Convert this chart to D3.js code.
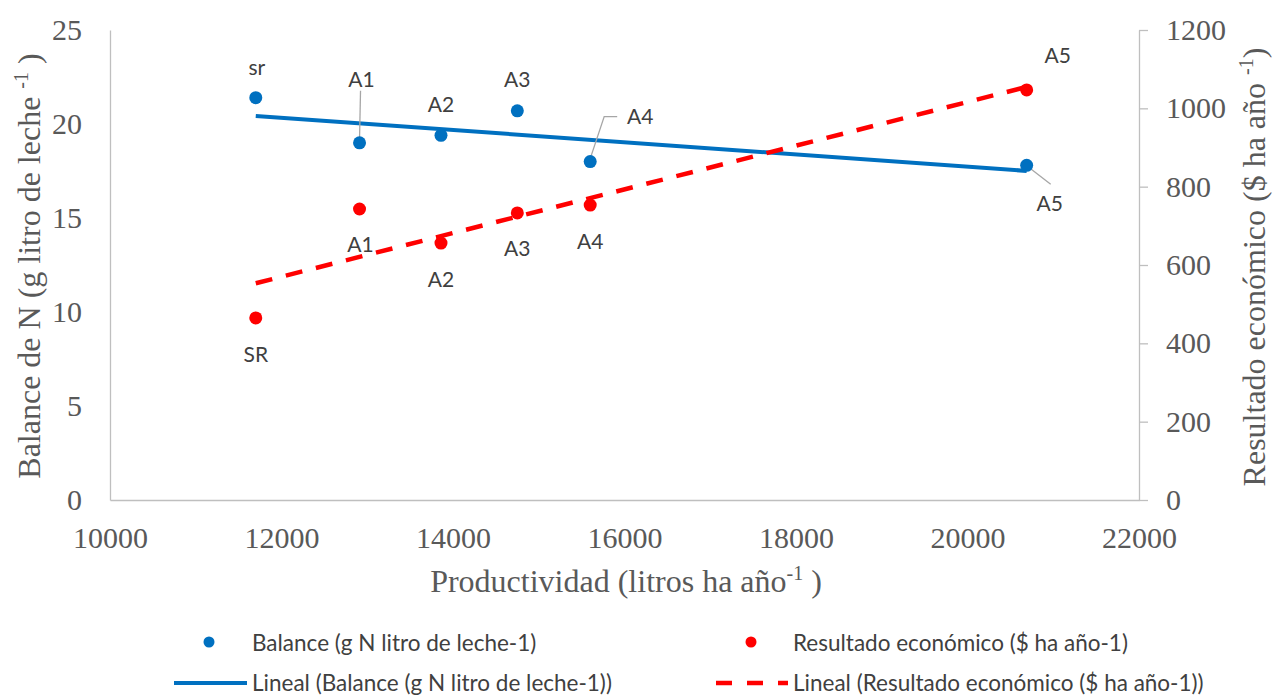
<!DOCTYPE html>
<html>
<head>
<meta charset="utf-8">
<script src="https://cdn.jsdelivr.net/npm/d3@7"></script>
<style>
  body { margin: 0; background: #fff; }
  svg { display: block; }
</style>
</head>
<body>
<div id="dataviz"></div>
<script>
// productividad (litros ha año-1) de cada sistema
const productividad = [11700, 12910, 13860, 14750, 15600, 20690];
// balance de N (g N litro de leche-1)
const balance = [21.4, 19.0, 19.4, 20.7, 18.0, 17.8];
// resultado económico ($ ha año-1)
const resultado = [465, 743, 656, 733, 753, 1047];
const balanceLabels = ['sr', 'A1', 'A2', 'A3', 'A4', 'A5'];
const resultadoLabels = ['SR', 'A1', 'A2', 'A3', 'A4', 'A5'];
const xTicks = [10000, 12000, 14000, 16000, 18000, 20000, 22000];
const yLeftTicks = [0, 5, 10, 15, 20, 25];
const yRightTicks = [0, 200, 400, 600, 800, 1000, 1200];

// label placement, px offsets from the point (dx, dy) and optional leader
const balanceOffsets = [
  { dx: 1, dy: -31 },
  { dx: 2, dy: -64, leader: [[1, -52], [0, -4]] },
  { dx: 0, dy: -32 },
  { dx: 0, dy: -32 },
  { dx: 50, dy: -46, leader: [[0, -3], [14, -45], [27, -45]] },
  { dx: 23, dy: 37, leader: [[2, 2], [24, 19]] }
];
const resultadoOffsets = [
  { dx: 0, dy: 36 }, { dx: 1, dy: 35 }, { dx: 0, dy: 35 },
  { dx: 0, dy: 35 }, { dx: 0, dy: 35 }, { dx: 31, dy: -35 }
];

const BLUE = '#0070C0';
const RED = '#FF0000';
const SERIF = '"Liberation Serif", "Times New Roman", serif';
const SANS = 'Lato, "Open Sans", sans-serif';

const linearFit = (xs, ys) => {
  const mx = d3.mean(xs), my = d3.mean(ys);
  const sxy = d3.sum(xs, (x, i) => (x - mx) * (ys[i] - my));
  const sxx = d3.sum(xs, x => (x - mx) ** 2);
  const b = sxy / sxx;
  const ext = d3.extent(xs);
  return ext.map(x => [x, my + b * (x - mx)]);
};

const addSuperTitle = (g, before, sup, after) => {
  const t = g.append('text')
    .attr('text-anchor', 'middle')
    .attr('fill', '#595959')
    .style('font-family', SERIF)
    .style('font-size', '32px');
  t.append('tspan').text(before);
  t.append('tspan').attr('dy', -12).style('font-size', '20px').text(sup);
  t.append('tspan').attr('dy', 12).text(after);
  return t;
};

const buildChart = () => {
  const width = 1274, height = 696;
  const margin = { top: 30, left: 110, right: 135, bottom: 196 };

  const svg = d3.select('#dataviz').append('svg')
    .attr('width', width)
    .attr('height', height);

  const x = d3.scaleLinear().domain([10000, 22000]).range([margin.left, width - margin.right]);
  const yL = d3.scaleLinear().domain([0, 25]).range([height - margin.bottom, margin.top]);
  const yR = d3.scaleLinear().domain([0, 1200]).range([height - margin.bottom, margin.top]);

  // axes
  const axisStyle = g => {
    g.attr('font-family', null).attr('font-size', null);
    g.select('.domain').attr('stroke', '#bfbfbf').attr('stroke-width', 1.3);
    g.selectAll('.tick line').attr('stroke', '#bfbfbf').attr('stroke-width', 1.3);
    g.selectAll('.tick text')
      .attr('fill', '#595959')
      .style('font-family', SERIF)
      .style('font-size', '30px');
  };

  svg.append('g')
    .attr('transform', `translate(0,${yL(0)})`)
    .call(d3.axisBottom(x).tickValues(xTicks).tickFormat(d3.format('d')).tickSize(0).tickPadding(27).tickSizeOuter(0))
    .call(axisStyle);

  svg.append('g')
    .attr('transform', `translate(${x(10000)},0)`)
    .call(d3.axisLeft(yL).tickValues(yLeftTicks).tickFormat(d3.format('d')).tickSize(0).tickPadding(28).tickSizeOuter(0))
    .call(axisStyle);

  svg.append('g')
    .attr('transform', `translate(${x(22000)},0)`)
    .call(d3.axisRight(yR).tickValues(yRightTicks).tickFormat(d3.format('d')).tickSize(9).tickPadding(18).tickSizeOuter(0))
    .call(axisStyle);

  // axis titles
  addSuperTitle(svg.append('g').attr('transform', 'translate(626,592)'),
    'Productividad (litros ha año', '-1', ' )');
  addSuperTitle(svg.append('g').attr('transform', 'translate(40,266) rotate(-90)'),
    'Balance de N (g litro de leche ', '-1', ' )');
  addSuperTitle(svg.append('g').attr('transform', 'translate(1265,267) rotate(-90)'),
    'Resultado económico ($ ha año ', '-1', ')');

  // trend lines
  const lineL = d3.line().x(d => x(d[0])).y(d => yL(d[1]));
  const lineR = d3.line().x(d => x(d[0])).y(d => yR(d[1]));

  svg.append('path')
    .attr('d', lineL(linearFit(productividad, balance)))
    .attr('fill', 'none')
    .attr('stroke', BLUE)
    .attr('stroke-width', 4);

  svg.append('path')
    .attr('d', lineR(linearFit(productividad, resultado)))
    .attr('fill', 'none')
    .attr('stroke', RED)
    .attr('stroke-width', 4.5)
    .attr('stroke-dasharray', '17,14');

  // leader lines
  const leaders = svg.append('g');
  balanceOffsets.forEach((o, i) => {
    if (!o.leader) return;
    const px = x(productividad[i]), py = yL(balance[i]);
    leaders.append('path')
      .attr('d', d3.line()(o.leader.map(p => [px + p[0], py + p[1]])))
      .attr('fill', 'none')
      .attr('stroke', '#a6a6a6')
      .attr('stroke-width', 1.3);
  });

  // points
  svg.append('g').selectAll('circle')
    .data(productividad)
    .enter().append('circle')
    .attr('cx', d => x(d))
    .attr('cy', (d, i) => yL(balance[i]))
    .attr('r', 6.5)
    .attr('fill', BLUE);

  svg.append('g').selectAll('circle')
    .data(productividad)
    .enter().append('circle')
    .attr('cx', d => x(d))
    .attr('cy', (d, i) => yR(resultado[i]))
    .attr('r', 6.5)
    .attr('fill', RED);

  // data labels
  const labelStyle = sel => sel
    .attr('text-anchor', 'middle')
    .attr('dominant-baseline', 'central')
    .attr('fill', '#404040')
    .style('font-family', SANS)
    .style('font-size', '21px');

  svg.append('g').selectAll('text')
    .data(balanceLabels)
    .enter().append('text')
    .attr('x', (d, i) => x(productividad[i]) + balanceOffsets[i].dx)
    .attr('y', (d, i) => yL(balance[i]) + balanceOffsets[i].dy)
    .text(d => d)
    .call(labelStyle);

  svg.append('g').selectAll('text')
    .data(resultadoLabels)
    .enter().append('text')
    .attr('x', (d, i) => x(productividad[i]) + resultadoOffsets[i].dx)
    .attr('y', (d, i) => yR(resultado[i]) + resultadoOffsets[i].dy)
    .text(d => d)
    .call(labelStyle);

  // legend
  const legend = svg.append('g').attr('class', 'legend');
  const legText = (lx, ly, s) => legend.append('text')
    .attr('x', lx).attr('y', ly)
    .attr('dominant-baseline', 'central')
    .attr('fill', '#404040')
    .style('font-family', SANS)
    .style('font-size', '22.5px')
    .text(s);

  legend.append('circle').attr('cx', 209).attr('cy', 642).attr('r', 5.5).attr('fill', BLUE);
  legText(252, 642, 'Balance (g N litro de leche-1)');
  legend.append('circle').attr('cx', 751).attr('cy', 642).attr('r', 5.5).attr('fill', RED);
  legText(793, 642, 'Resultado económico ($ ha año-1)');

  legend.append('line').attr('x1', 174).attr('x2', 247).attr('y1', 683).attr('y2', 683)
    .attr('stroke', BLUE).attr('stroke-width', 4);
  legText(252, 682, 'Lineal (Balance (g N litro de leche-1))');
  legend.append('line').attr('x1', 716).attr('x2', 788).attr('y1', 683).attr('y2', 683)
    .attr('stroke', RED).attr('stroke-width', 4.5).attr('stroke-dasharray', '16,15');
  legText(793, 682, 'Lineal (Resultado económico ($ ha año-1))');
};

document.addEventListener('DOMContentLoaded', buildChart);
</script>
</body>
</html>
